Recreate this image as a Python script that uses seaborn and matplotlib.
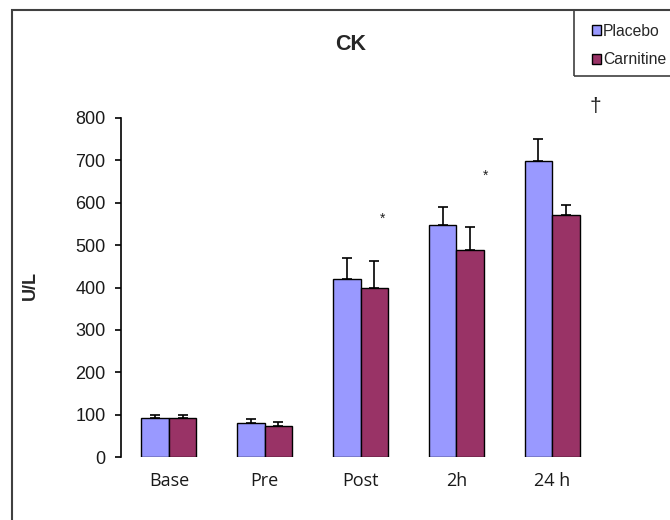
import matplotlib
matplotlib.use("Agg")
import matplotlib.pyplot as plt
from matplotlib.patches import Rectangle
import seaborn as sns
import pandas as pd

times = ["Base", "Pre", "Post", "2h", "24 h"]
placebo = [91, 80, 421, 547, 699]
placebo_err = [8, 10, 48, 44, 51]
carnitine = [91, 73, 398, 488, 571]
carnitine_err = [7, 10, 64, 55, 23]
groups = ["Placebo", "Carnitine"]
colors = ["#9999FF", "#993366"]

# significance marks: (x position in category units, y value, symbol)
marks_x = [2.23, 3.31, 4.45]
marks_y = [561, 663, 826]
marks_txt = ["*", "*", "\u2020"]
marks_size = [10, 10, 15]

df = pd.DataFrame({
    "time": times * 2,
    "value": placebo + carnitine,
    "group": ["Placebo"] * len(times) + ["Carnitine"] * len(times),
})

sns.set_style("white")
plt.rcParams["font.family"] = ["Liberation Sans", "DejaVu Sans"]

fig = plt.figure(figsize=(6.7, 5.2), dpi=100)
ax = fig.add_axes([121 / 670, 1 - 457 / 520, 479 / 670, 339 / 520])

sns.barplot(data=df, x="time", y="value", hue="group", hue_order=groups,
            order=times, palette=colors, width=0.575, edgecolor="black",
            linewidth=1, saturation=1, ax=ax, legend=True)

errs = [placebo_err, carnitine_err]
for cont, err in zip(ax.containers, errs):
    xs = [b.get_x() + b.get_width() / 2 for b in cont]
    ys = [b.get_height() for b in cont]
    ax.errorbar(xs, ys, yerr=[[0] * len(err), err], fmt="none",
                ecolor="black", elinewidth=1.2, capsize=3.6, capthick=1.2,
                zorder=1)

for x, y, t, s in zip(marks_x, marks_y, marks_txt, marks_size):
    ax.text(x, y, t, ha="center", va="center", fontsize=s, color="#222222",
            clip_on=False)

ax.set_ylim(0, 800)
ax.set_xlim(-0.5, 4.5)
ax.set_yticks(range(0, 801, 100))
ax.set_xlabel("")
ax.set_ylabel("")
for sp in ["top", "right", "bottom"]:
    ax.spines[sp].set_visible(False)
ax.spines["left"].set_color("black")
ax.spines["left"].set_linewidth(1.2)
ax.tick_params(axis="y", direction="out", length=4, width=1.2, color="black",
               left=True, pad=7, labelsize=13, labelcolor="#1a1a1a")
ax.tick_params(axis="x", length=0, pad=11)
for lab in ax.get_xticklabels():
    lab.set_fontfamily(["Open Sans", "DejaVu Sans"])
    lab.set_fontsize(13)
    lab.set_color("#1a1a1a")

fig.text(351 / 670, 1 - 44 / 520, "CK", ha="center", va="center",
         fontsize=15.5, fontweight="bold")
fig.text(30 / 670, 1 - 286 / 520, "U/L", ha="center", va="center",
         rotation=90, fontsize=13, fontweight="bold")

# outer frame
fig.patches.append(Rectangle((12 / 670, -0.1), 2, 1 - 10 / 520 + 0.1,
                             transform=fig.transFigure, fill=False,
                             edgecolor="#404040", linewidth=1.5))

# legend
handles, labels = ax.get_legend_handles_labels()
ax.get_legend().remove()
fig.patches.append(Rectangle((574 / 670, 1 - 76 / 520), 1, 66 / 520,
                             transform=fig.transFigure, fill=False,
                             edgecolor="#404040", linewidth=1.2))
leg = fig.legend(handles, labels, loc="upper left",
                 bbox_to_anchor=(584 / 670, 1 - 16 / 520), frameon=False,
                 fontsize=11.3, handlelength=0.6, handleheight=0.6,
                 handletextpad=0.12, labelspacing=0.85, borderpad=0)

fig.savefig("out.png", dpi=100)
